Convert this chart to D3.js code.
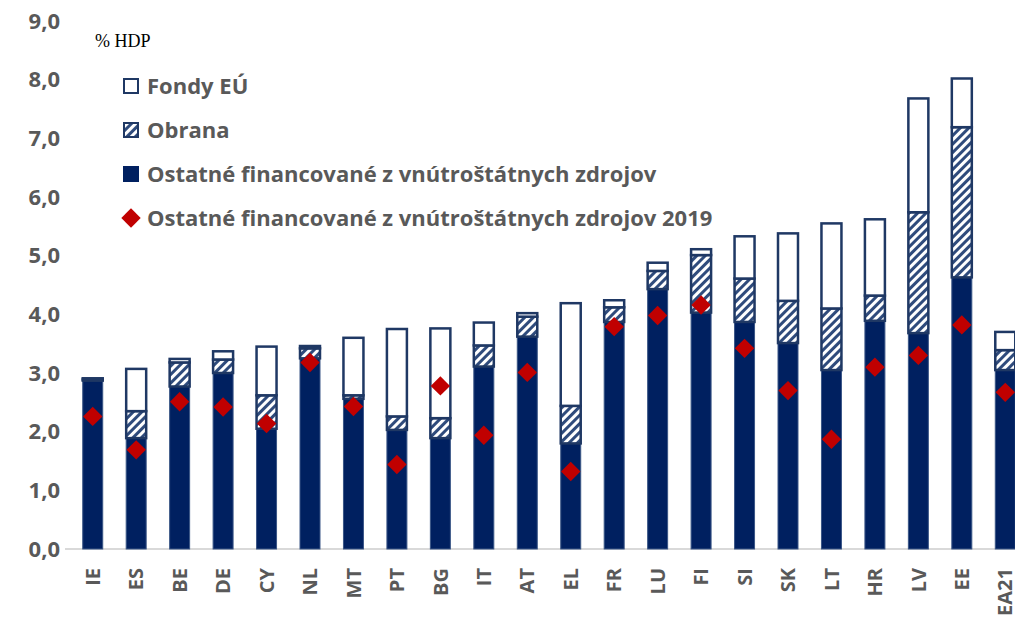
<!DOCTYPE html>
<html>
<head>
<meta charset="utf-8">
<script src="https://cdn.jsdelivr.net/npm/d3@7"></script>
<style>
  body { margin: 0; background: #fff; }
</style>
</head>
<body>
<div id="plot"></div>
<script>
// Countries on the x axis
const countries = ["IE","ES","BE","DE","CY","NL","MT","PT","BG","IT","AT","EL","FR","LU","FI","SI","SK","LT","HR","LV","EE","EA21"];

// Stacked series (% HDP)
const ostatne = [2.87,1.89,2.77,3.00,2.05,3.25,2.56,2.03,1.89,3.11,3.62,1.80,3.87,4.43,4.03,3.87,3.51,3.05,3.89,3.68,4.63,3.05];
const obrana  = [0.02,0.46,0.41,0.23,0.57,0.17,0.06,0.23,0.34,0.36,0.34,0.64,0.25,0.31,0.98,0.74,0.72,1.05,0.43,2.06,2.56,0.34];
const fondy   = [0.02,0.72,0.06,0.14,0.83,0.04,0.98,1.49,1.53,0.39,0.06,1.75,0.12,0.14,0.10,0.72,1.15,1.45,1.30,1.94,0.83,0.31];

// Diamonds: domestic-financed 2019
const ostatne2019 = [2.26,1.69,2.51,2.42,2.14,3.18,2.43,1.44,2.78,1.94,3.01,1.32,3.79,3.98,4.16,3.42,2.70,1.87,3.10,3.30,3.82,2.67];

const yTicks = [0,1,2,3,4,5,6,7,8,9];

const legendLabels = [
  "Fondy EÚ",
  "Obrana",
  "Ostatné financované z vnútroštátnych zdrojov",
  "Ostatné financované z vnútroštátnych zdrojov 2019"
];

const W = 1015, H = 617;
const navy = "#002060", edge = "#1F3864", red = "#C00000", grey = "#595959";
const sans = "'Open Sans', sans-serif";

const svg = d3.select("#plot").append("svg")
  .attr("width", W).attr("height", H);

// hatch pattern for Obrana
const defs = svg.append("defs");
const pat = defs.append("pattern")
  .attr("id", "hatch")
  .attr("patternUnits", "userSpaceOnUse")
  .attr("width", 6).attr("height", 6)
  .attr("patternTransform", "rotate(45)");
pat.append("rect").attr("width", 6).attr("height", 6).attr("fill", "#fff");
pat.append("rect").attr("width", 3).attr("height", 6).attr("fill", "#2F4B7C");

const x = d3.scaleBand()
  .domain(countries)
  .range([71, 1027])
  .paddingInner(0.54)
  .paddingOuter(0.27);

const y = d3.scaleLinear().domain([0, 9]).range([549, 21]);

// stacked data
const rows = countries.map((c, i) => ({ c, ostatne: ostatne[i], obrana: obrana[i], fondy: fondy[i], v2019: ostatne2019[i] }));
const stack = d3.stack().keys(["ostatne", "obrana", "fondy"])(rows);

// y axis labels
const yAxis = svg.append("g")
  .attr("transform", "translate(60,0)")
  .call(d3.axisLeft(y).tickValues(yTicks).tickSize(0).tickPadding(0)
    .tickFormat(d => d3.format(".1f")(d).replace(".", ",")));
yAxis.select(".domain").remove();
yAxis.selectAll("text")
  .style("font-family", sans).style("font-size", "22px").style("font-weight", 700)
  .attr("fill", grey);

// baseline
svg.append("line")
  .attr("x1", 65).attr("x2", W)
  .attr("y1", y(0)).attr("y2", y(0))
  .attr("stroke", "#d9d9d9").attr("stroke-width", 2);

// bars
const fills = { ostatne: navy, obrana: "url(#hatch)", fondy: "#fff" };
stack.forEach(layer => {
  svg.append("g").selectAll("rect")
    .data(layer.filter(d => d[1] - d[0] > 0))
    .join("rect")
    .attr("x", d => x(d.data.c))
    .attr("width", x.bandwidth())
    .attr("y", d => y(d[1]))
    .attr("height", d => y(d[0]) - y(d[1]))
    .attr("fill", fills[layer.key])
    .attr("stroke", layer.key === "ostatne" ? "#3a5686" : edge)
    .attr("stroke-width", layer.key === "ostatne" ? 1 : 2.5);
});

// 2019 diamonds
const diamond = d3.symbol().type(d3.symbolDiamond2).size(240);
svg.append("g").selectAll("path")
  .data(rows)
  .join("path")
  .attr("d", diamond)
  .attr("transform", d => `translate(${x(d.c) + x.bandwidth() / 2},${y(d.v2019)})`)
  .attr("fill", red);

// x axis labels
const xAxis = svg.append("g")
  .attr("transform", `translate(0,${y(0)})`)
  .call(d3.axisBottom(x).tickSize(0).tickPadding(0));
xAxis.select(".domain").remove();
xAxis.selectAll("text")
  .style("font-family", sans).style("font-size", "20px").style("font-weight", 700)
  .attr("fill", grey)
  .attr("text-anchor", "end")
  .attr("transform", "rotate(-90)")
  .attr("x", -19).attr("y", 0).attr("dy", "0.36em");

// unit label
svg.append("text")
  .attr("x", 95).attr("y", 47)
  .style("font-family", "'Liberation Serif', serif")
  .style("font-size", "18px")
  .attr("fill", "#000")
  .text("% HDP");

// legend
const legend = svg.append("g").attr("transform", "translate(123,86)");
legendLabels.forEach((lab, i) => {
  const g = legend.append("g").attr("transform", `translate(0,${i * 44})`);
  if (i === 0) {
    g.append("rect").attr("x", 1).attr("y", -7).attr("width", 14).attr("height", 14)
      .attr("fill", "#fff").attr("stroke", edge).attr("stroke-width", 2);
  } else if (i === 1) {
    g.append("rect").attr("x", 1).attr("y", -7).attr("width", 14).attr("height", 14)
      .attr("fill", "url(#hatch)").attr("stroke", edge).attr("stroke-width", 2);
  } else if (i === 2) {
    g.append("rect").attr("x", 0).attr("y", -8).attr("width", 16).attr("height", 16)
      .attr("fill", navy);
  } else {
    g.append("path").attr("d", diamond).attr("transform", "translate(8,0)").attr("fill", red);
  }
  g.append("text")
    .attr("x", 24).attr("dy", "0.36em")
    .style("font-family", sans).style("font-size", "22px").style("font-weight", 700)
    .attr("fill", grey)
    .text(lab);
});
</script>
</body>
</html>
